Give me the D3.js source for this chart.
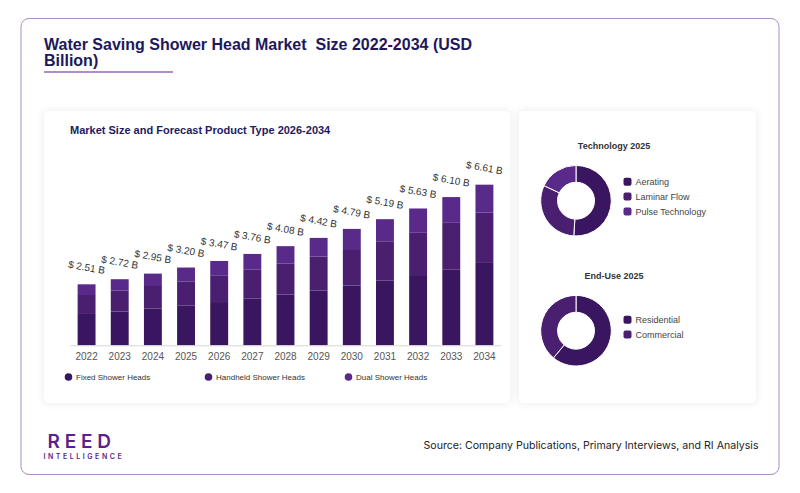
<!DOCTYPE html>
<html>
<head>
<meta charset="utf-8">
<script src="https://cdn.jsdelivr.net/npm/d3@7.9.0/dist/d3.min.js"></script>
<style>
  html, body { margin: 0; padding: 0; background: #fff; }
  svg { display: block; font-family: "Liberation Sans", Arial, sans-serif; }
  text { white-space: pre; }
</style>
</head>
<body>
<svg id="chart" width="800" height="493"></svg>
<script>
// chart data
const years = ['2022','2023','2024','2025','2026','2027','2028','2029','2030','2031','2032','2033','2034'];
const totals = [2.51, 2.72, 2.95, 3.20, 3.47, 3.76, 4.08, 4.42, 4.79, 5.19, 5.63, 6.10, 6.61];
const fixedHeads = [1.29, 1.39, 1.51, 1.63, 1.78, 1.92, 2.09, 2.25, 2.46, 2.66, 2.89, 3.11, 3.39];
const handheldHeads = [0.78, 0.86, 0.93, 1.00, 1.08, 1.19, 1.28, 1.40, 1.50, 1.62, 1.74, 1.93, 2.07];
const dualHeads = [0.44, 0.47, 0.51, 0.57, 0.61, 0.65, 0.71, 0.77, 0.83, 0.91, 1.00, 1.06, 1.15];
const productTypes = ['Fixed Shower Heads', 'Handheld Shower Heads', 'Dual Shower Heads'];

const techLabels = ['Aerating', 'Laminar Flow', 'Pulse Technology'];
const techShares = [51, 31, 18];
const endUseLabels = ['Residential', 'Commercial'];
const endUseShares = [61, 39];

const colors = ['#3b1660', '#4b1f70', '#5a2a8a'];

const svg = d3.select('#chart');

// outer card
svg.append('rect')
  .attr('x', 21).attr('y', 18.5).attr('width', 758).attr('height', 456)
  .attr('rx', 8).attr('fill', '#fff')
  .attr('stroke', '#a98bc6').attr('stroke-width', 1);

// title
const title = svg.append('text')
  .attr('x', 44).attr('y', 50)
  .attr('fill', '#21185a').attr('font-size', 16).attr('font-weight', 'bold');
title.append('tspan').attr('x', 44).text('Water Saving Shower Head Market  Size 2022-2034 (USD');
title.append('tspan').attr('x', 44).attr('dy', 15.5).text('Billion)');
svg.append('line')
  .attr('x1', 44).attr('x2', 173).attr('y1', 72).attr('y2', 72)
  .attr('stroke', '#9467bd').attr('stroke-width', 1.5);

// panels with soft shadow
const defs = svg.append('defs');
const f = defs.append('filter').attr('id', 'shadow')
  .attr('x', '-10%').attr('y', '-10%').attr('width', '120%').attr('height', '120%');
f.append('feDropShadow').attr('dx', 0).attr('dy', 0).attr('stdDeviation', 4)
  .attr('flood-color', '#000').attr('flood-opacity', 0.09);

svg.append('rect').attr('x', 44).attr('y', 111).attr('width', 466).attr('height', 292)
  .attr('rx', 5).attr('fill', '#fff').attr('filter', 'url(#shadow)');
svg.append('rect').attr('x', 519).attr('y', 111).attr('width', 237).attr('height', 292)
  .attr('rx', 5).attr('fill', '#fff').attr('filter', 'url(#shadow)');

svg.append('text')
  .attr('x', 70).attr('y', 133.5)
  .attr('fill', '#231a5e').attr('font-size', 11).attr('font-weight', 'bold')
  .text('Market Size and Forecast Product Type 2026-2034');

// stacked bars
const rows = years.map((y, i) => ({
  year: y, total: totals[i],
  [productTypes[0]]: fixedHeads[i],
  [productTypes[1]]: handheldHeads[i],
  [productTypes[2]]: dualHeads[i]
}));

const x = d3.scaleBand().domain(years).range([70, 501]).paddingInner(0.46).paddingOuter(0.23);
const y = d3.scaleLinear().domain([0, 7]).range([345.3, 345.3 - 7 * 24.3]);
const color = d3.scaleOrdinal().domain(productTypes).range(colors);

const stack = d3.stack().keys(productTypes)(rows);

svg.append('g')
  .selectAll('g')
  .data(stack)
  .join('g')
  .attr('fill', d => color(d.key))
  .selectAll('rect')
  .data(d => d)
  .join('rect')
  .attr('x', d => x(d.data.year))
  .attr('width', x.bandwidth())
  .attr('y', d => y(d[1]))
  .attr('height', d => y(d[0]) - y(d[1]));

const xAxis = svg.append('g')
  .attr('transform', `translate(0,${y(0)})`)
  .call(d3.axisBottom(x).tickSize(0).tickPadding(8));
xAxis.select('.domain').attr('stroke', '#d6d6d6');
xAxis.selectAll('text')
  .attr('font-family', '"Liberation Sans", Arial, sans-serif')
  .attr('font-size', 10).attr('fill', '#555');

// value labels
svg.append('g')
  .selectAll('text')
  .data(rows)
  .join('text')
  .attr('transform', d => `translate(${x(d.year) + x.bandwidth() / 2},${y(d.total) - 17}) rotate(10)`)
  .attr('text-anchor', 'middle')
  .attr('dy', '0.35em')
  .attr('font-size', 10).attr('fill', '#333')
  .text(d => `$ ${d.total.toFixed(2)} B`);

// bar legend
const legendX = [68.5, 208.5, 348.5];
const lg = svg.append('g')
  .selectAll('g')
  .data(productTypes)
  .join('g')
  .attr('transform', (d, i) => `translate(${legendX[i]},377)`);
lg.append('circle').attr('r', 3.8).attr('fill', d => color(d));
lg.append('text').attr('x', 7.5).attr('dy', '0.35em')
  .attr('font-size', 8).attr('fill', '#333').text(d => d);

// donuts
function donut(cx, cy, titleY, labels, shares, legendY, titleText) {
  svg.append('text')
    .attr('x', 614).attr('y', titleY)
    .attr('text-anchor', 'middle')
    .attr('font-size', 9).attr('font-weight', 'bold').attr('fill', '#333')
    .text(titleText);

  const pie = d3.pie().sort(null)(shares);
  const arc = d3.arc().innerRadius(18.5).outerRadius(35.3);
  svg.append('g')
    .attr('transform', `translate(${cx},${cy})`)
    .selectAll('path')
    .data(pie)
    .join('path')
    .attr('d', arc)
    .attr('fill', (d, i) => colors[i])
    .attr('stroke', '#fff').attr('stroke-width', 1);

  const g = svg.append('g')
    .selectAll('g')
    .data(labels)
    .join('g')
    .attr('transform', (d, i) => `translate(627.5,${legendY + i * 14.8})`);
  g.append('rect').attr('x', -4).attr('y', -4).attr('width', 8).attr('height', 8)
    .attr('rx', 2).attr('fill', (d, i) => colors[i]);
  g.append('text').attr('x', 8).attr('dy', '0.35em')
    .attr('font-size', 9).attr('fill', '#444').text(d => d);
}

donut(576, 200.7, 149, techLabels, techShares, 181.8, 'Technology 2025');
donut(576, 330.7, 279, endUseLabels, endUseShares, 319.8, 'End-Use 2025');

// footer
svg.append('text')
  .attr('x', 47.5).attr('y', 447.6)
  .attr('font-family', 'Inter, "Liberation Sans", sans-serif')
  .attr('font-size', 19).attr('font-weight', 600)
  .attr('letter-spacing', 4.8).attr('fill', '#5c1f8c')
  .text('REED');
svg.append('text')
  .attr('x', 43.5).attr('y', 458.8)
  .attr('font-family', 'Inter, "Liberation Sans", sans-serif')
  .attr('font-size', 7).attr('font-weight', 600)
  .attr('letter-spacing', 2.55).attr('fill', '#5c1f8c')
  .text('INTELLIGENCE');
svg.append('text')
  .attr('x', 758.5).attr('y', 448.8)
  .attr('text-anchor', 'end')
  .attr('font-family', 'Inter, "Liberation Sans", sans-serif')
  .attr('font-size', 10.6).attr('fill', '#222')
  .text('Source: Company Publications, Primary Interviews, and RI Analysis');
</script>
</body>
</html>
